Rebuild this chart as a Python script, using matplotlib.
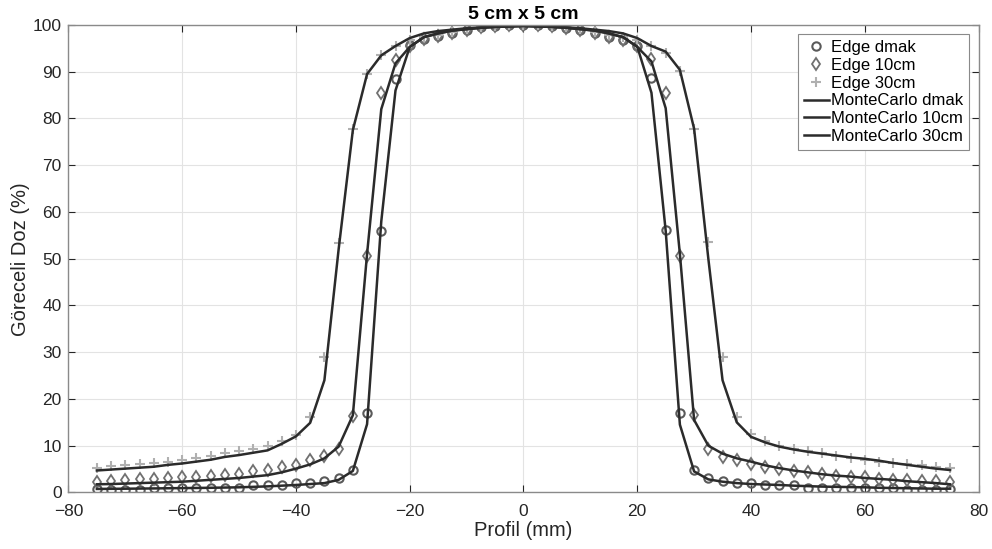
import numpy as np
import matplotlib
matplotlib.use("Agg")
import matplotlib.pyplot as plt

plt.rcParams['font.family'] = ['Liberation Sans', 'DejaVu Sans']

# profile positions (mm), 2.5 mm step from -75 to 75
x_mm = np.arange(-75, 75.01, 2.5)

# Edge detector measurements (%)
edge_dmak = [0.7, 0.5, 0.5, 0.5, 0.9, 0.9, 0.9, 1.0, 1.0, 1.0, 1.0, 1.5, 1.5, 1.5, 2.0, 2.0, 2.5, 3.0, 4.8,
             17.1, 56.0, 88.5, 95.7, 97.0, 97.6, 98.3, 99.0, 99.5, 99.8, 99.9,
             100.0,
             99.9, 99.8, 99.4, 98.9, 98.2, 97.5, 96.8, 95.6, 88.6, 56.1, 17.1,
             4.8, 3.0, 2.5, 2.0, 2.0, 1.5, 1.5, 1.5, 1.0, 1.0, 1.0, 1.0, 0.9, 0.9, 0.9, 0.5, 0.5, 0.5, 0.7]
edge_10cm = [2.3, 2.5, 2.7, 2.8, 2.9, 3.0, 3.2, 3.4, 3.5, 3.7, 4.0, 4.6, 4.8, 5.4, 5.9, 7.0, 7.8, 9.3, 16.4,
             50.6, 85.5, 92.5, 95.5, 96.9, 97.6, 98.3, 99.0, 99.5, 99.8, 99.9,
             100.0,
             99.9, 99.8, 99.4, 98.9, 98.2, 97.5, 96.8, 95.5, 92.8, 85.5, 50.6,
             16.5, 9.3, 7.6, 7.0, 6.0, 5.4, 5.0, 4.6, 4.3, 3.9, 3.5, 3.4, 3.3, 2.9, 2.7, 2.7, 2.5, 2.5, 2.3]
edge_30cm = [5.3, 5.7, 5.8, 6.0, 6.4, 6.6, 7.0, 7.3, 7.9, 8.4, 8.8, 9.3, 10.0, 11.0, 12.3, 16.1,
             29.0, 53.3, 77.8, 89.5, 93.5, 95.5, 96.8, 97.4, 97.9, 98.5, 99.1, 99.5, 99.8, 99.9,
             100.0,
             99.9, 99.8, 99.5, 99.1, 98.5, 97.9, 97.4, 96.8, 95.5, 94.0, 90.2,
             77.8, 53.5, 29.0, 16.1, 12.5, 11.0, 10.0, 9.3, 8.8, 8.4, 7.8, 7.3, 7.0, 6.6, 6.2, 6.1, 5.8, 5.5, 5.3]

# Monte Carlo calculation (%)
mc_dmak = [0.75, 0.78, 0.8, 0.83, 0.86, 0.9, 0.93, 0.96, 1.0, 1.05, 1.1, 1.2, 1.3, 1.45, 1.6, 1.8, 2.0, 2.7, 4.6,
           14.6, 58.0, 86.0, 95.3, 97.4, 98.2, 98.8, 99.1, 99.4, 99.6, 99.7,
           99.8,
           99.7, 99.6, 99.4, 99.1, 98.8, 98.2, 97.4, 95.4, 85.5, 56.0, 14.5,
           4.5, 2.8, 2.3, 2.0, 1.8, 1.7, 1.6, 1.45, 1.35, 1.25, 1.2, 1.15, 1.1, 1.0, 0.95, 0.9, 0.85, 0.8, 0.8]
mc_10cm = [1.75, 1.8, 1.9, 2.0, 2.1, 2.2, 2.3, 2.5, 2.7, 2.9, 3.1, 3.4, 3.7, 4.3, 5.1, 6.0, 7.3, 9.8, 16.5,
           51.0, 82.0, 91.8, 95.3, 97.4, 98.2, 98.8, 99.1, 99.4, 99.6, 99.7,
           99.8,
           99.7, 99.6, 99.4, 99.1, 98.8, 98.2, 97.4, 95.3, 92.2, 82.2, 51.0,
           15.5, 10.0, 8.3, 7.3, 6.6, 5.8, 5.2, 4.7, 4.3, 3.9, 3.6, 3.4, 3.1, 2.9, 2.7, 2.4, 2.2, 2.0, 1.75]
mc_30cm = [4.7, 4.9, 5.1, 5.3, 5.5, 5.9, 6.2, 6.6, 7.0, 7.6, 8.0, 8.5, 9.0, 10.4, 12.0, 14.9,
           24.0, 52.0, 77.5, 89.5, 93.5, 95.5, 97.2, 98.2, 98.7, 99.0, 99.3, 99.5, 99.6, 99.7,
           99.8,
           99.7, 99.6, 99.5, 99.3, 99.0, 98.7, 98.2, 97.2, 95.5, 94.3, 90.4,
           77.8, 50.0, 24.0, 15.0, 11.9, 10.7, 9.8, 9.2, 8.7, 8.3, 7.9, 7.5, 7.2, 6.8, 6.3, 5.9, 5.5, 5.1, 4.8]

fig = plt.figure(figsize=(9.92, 5.49), dpi=100)
ax = fig.add_axes([0.069, 0.103, 0.9174, 0.8515])

ax.plot(x_mm, edge_dmak, linestyle='none', marker='o', markersize=6, markerfacecolor='none',
        markeredgecolor='#5a5a5a', markeredgewidth=1.5, label='Edge dmak')
ax.plot(x_mm, edge_10cm, linestyle='none', marker='d', markersize=6.5, markerfacecolor='none',
        markeredgecolor='#707070', markeredgewidth=1.3, label='Edge 10cm')
ax.plot(x_mm, edge_30cm, linestyle='none', marker='+', markersize=6.5, markeredgecolor='#b0b0b0',
        markeredgewidth=1.5, label='Edge 30cm')
ax.plot(x_mm, mc_dmak, color='#2b2b2b', linewidth=1.8, label='MonteCarlo dmak')
ax.plot(x_mm, mc_10cm, color='#2b2b2b', linewidth=1.8, label='MonteCarlo 10cm')
ax.plot(x_mm, mc_30cm, color='#2b2b2b', linewidth=1.8, label='MonteCarlo 30cm')

ax.set_xlim(-80, 80)
ax.set_ylim(0, 100)
ax.set_xticks(np.arange(-80, 81, 20))
ax.set_yticks(np.arange(0, 101, 10))
ax.grid(True, color='#e3e3e3', linewidth=0.8)
ax.set_axisbelow(True)
ax.tick_params(direction='in', top=True, right=True, labelsize=12.5, colors='#262626', length=5)
ax.tick_params(axis='x', pad=8)
ax.tick_params(axis='y', pad=5)
for s in ax.spines.values():
    s.set_color('#8a8a8a')
    s.set_linewidth(1.0)

ax.set_xlabel('Profil (mm)', fontsize=14.5, color='#262626', labelpad=2)
ax.set_ylabel('Göreceli Doz (%)', fontsize=14.5, color='#262626', labelpad=2)
ax.set_title('5 cm x 5 cm', fontsize=14, fontweight='bold', pad=4)

leg = ax.legend(loc='upper right', fontsize=12, frameon=True, fancybox=False, framealpha=1,
                edgecolor='#8a8a8a', handlelength=1.5, handletextpad=0.15, borderpad=0.35,
                labelspacing=0.17, borderaxespad=0.55)
leg.get_frame().set_linewidth(0.8)

fig.savefig('out.png', dpi=100)
